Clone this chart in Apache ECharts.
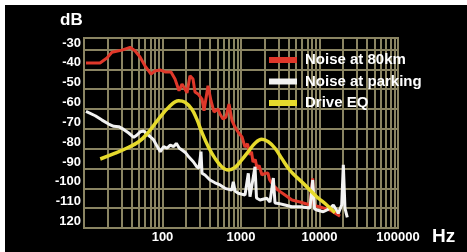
<!DOCTYPE html>
<html>
<head>
<meta charset="utf-8">
<script src="https://cdn.jsdelivr.net/npm/echarts@6/dist/echarts.min.js"></script>
<style>
html,body{margin:0;padding:0;background:#fff;width:467px;height:252px;overflow:hidden;}
#bg{position:absolute;left:5px;top:5px;width:462px;height:247px;background:#000;}
#chart{position:absolute;left:0;top:0;width:467px;height:252px;}
</style>
</head>
<body>
<div id="bg"></div>
<div id="chart"></div>
<script>
// Frequency axis (Hz) tick labels and minor grid positions
const xTickLabels = ['100', '1000', '10000', '100000'];
const minorHz = [20,30,40,50,60,70,80,90,
                 200,300,400,500,600,700,800,900,
                 2000,3000,4000,5000,6000,7000,8000,9000,
                 20000,30000,40000,50000,60000,70000,80000,90000];
const yTickLabels = ['-30','-40','-50','-60','-70','-80','-90','-100','-110','120'];

const seriesNames = ['Noise at 80km', 'Noise at parking', 'Drive EQ'];

// Noise at 80km (red)
const redHz = [10.6,16.0,19.6,22.7,30.5,38.5,44.6,51.7,59.8,71.4,
               80.3,92.9,107.6,128.3,144.3,162.3,177.2,193.5,205.2,224,
               244.6,259.4,283.3,318.6,337.9,379.8,414.7,453.2,509.3,540.1,
               589.9,644.1,703.4,768.1,838.6,915.8,1030,1125,1210,1302,
               1360,1422,1520,1599,1700,1851,2000,2207,2300,2556,
               2960,3635,4463,5644,7568,8190,8500,10150,13610,18250];
const redDb = [-36.8,-36.8,-34.3,-31.4,-30.3,-28.9,-30.6,-33.8,-38.2,-42.4,
               -40.8,-40.3,-41.3,-41.3,-44.9,-50.8,-47.4,-49.9,-51.9,-43.2,
               -44.9,-51.4,-52.4,-55.0,-60.9,-48.3,-55.8,-61.5,-60.0,-62.5,
               -65.0,-64.0,-57.5,-65.9,-69.1,-71.6,-74.1,-79.2,-77.5,-83.2,
               -81.5,-86.7,-85.5,-89.8,-88.5,-93.3,-92.5,-92.3,-95.5,-98.3,
               -100.9,-103.4,-105.9,-106.9,-108.4,-95.0,-108.6,-109.4,-110.9,-114.0];

// Noise at parking (white)
const whiteHz = [10.6,13.9,16.96,20.6,23.9,27.7,32.0,37.1,43.0,47.3,
                 52.1,57.6,63.5,69.9,77.2,85.1,93.8,103.6,114.1,125.7,
                 138.9,149.9,163.7,177.2,195.2,215.7,224,246.9,272.8,291.7,
                 309.4,318.6,347.9,402.8,466.7,540.1,625.5,761.3,797.9,838.6,
                 923.8,1125,1239,1302,1508,1576,1746,2126,2341,2580,
                 2711,2987,3635,4424,5644,7568,8190,8637,9211,11180,
                 13610,14990,17360,19180,20110,21120,22600];
const whiteDb = [-61.2,-63.4,-65.6,-67.6,-68.7,-68.9,-70.3,-72.1,-74.3,-73.1,
                 -71.5,-71.1,-72.6,-74.0,-75.6,-78.7,-81.5,-79.0,-79.8,-78.2,
                 -79.0,-77.3,-79.8,-80.7,-81.9,-84.1,-84.9,-86.6,-89.1,-89.8,
                 -81.5,-92.4,-93.3,-95.8,-97.2,-98.3,-100.0,-100.9,-96.7,-101.4,
                 -102.5,-103.4,-92.4,-104.2,-89.1,-104.9,-105.9,-105.0,-106.9,-94.8,
                 -107.4,-107.6,-108.4,-109.3,-109.3,-109.9,-95.8,-110.4,-110.9,-111.8,
                 -110.1,-108.4,-112.6,-108.4,-88.2,-110.1,-114.6];

// Drive EQ (yellow)
const eqHz = [16.1,25.0,37.1,49.7,63.5,89.4,120.0,160.9,193.5,
              235.5,272.8,315.8,383.1,466.7,567.6,689.0,838.6,1021,1239,
              1508,1835,2227,2711,3300,4004,4638,6220,9211,12350,15760];
const eqDb = [-85.2,-82.3,-79.3,-76.5,-72.6,-65.0,-59.1,-55.8,-56.6,
              -60.0,-65.0,-71.6,-79.0,-84.9,-89.1,-90.8,-89.4,-85.7,-81.5,
              -77.3,-75.3,-76.5,-79.8,-84.9,-89.9,-92.8,-97.5,-104.2,-108.4,-112.3];

const pairs = (xs, ys) => xs.map((x, i) => [x, ys[i]]);

const gridColor = '#8a8462';
const FONT = 'Liberation Sans';

const chart = echarts.init(document.getElementById('chart'), null, {renderer: 'canvas'});
chart.setOption({
  backgroundColor: 'transparent',
  animation: false,
  grid: {left: 84, right: 69, top: 38, bottom: 24, show: true, borderColor: gridColor, borderWidth: 2, backgroundColor: 'transparent'},
  xAxis: {
    type: 'log', logBase: 10, min: 10, max: 100000,
    axisLine: {show: false}, axisTick: {show: false},
    splitLine: {show: true, lineStyle: {color: gridColor, width: 2}},
    axisLabel: {
      color: '#fff', fontSize: 13, fontWeight: 'bold', fontFamily: FONT, margin: 3,
      formatter: function (v) {
        const s = String(Math.round(v));
        return xTickLabels.indexOf(s) >= 0 ? s : '';
      }
    }
  },
  yAxis: {
    type: 'value', min: -120, max: -24.2, interval: 10,
    axisLine: {show: false}, axisTick: {show: false},
    splitLine: {show: true, lineStyle: {color: gridColor, width: 2}},
    axisLabel: {
      color: '#fff', fontSize: 13, fontWeight: 'bold', fontFamily: FONT, margin: 3,
      verticalAlign: 'bottom', showMaxLabel: false, showMinLabel: true,
      formatter: function (v) {
        const idx = Math.round((-30 - v) / 10);
        if (Math.abs(v - Math.round(v)) > 0.01) return '';
        return yTickLabels[idx] !== undefined ? yTickLabels[idx] : '';
      }
    }
  },
  legend: {
    data: seriesNames, orient: 'vertical', left: 269, top: 52, padding: 0, z: 20,
    itemWidth: 28, itemHeight: 6, itemGap: 5.5, icon: 'rect',
    textStyle: {color: '#fff', fontSize: 15, fontWeight: 'bold', fontFamily: FONT, lineHeight: 16, padding: [0, 0, 0, 3]}
  },
  graphic: [
    {type: 'text', left: 60, top: 12, style: {text: 'dB', fill: '#fff', font: 'bold 17px "Liberation Sans"'}},
    {type: 'text', left: 432, top: 227, style: {text: 'Hz', fill: '#fff', font: 'bold 19px "Liberation Sans"'}}
  ],
  series: [
    {
      name: 'minor', type: 'line', data: [], z: 1, silent: true,
      markLine: {
        silent: true, z: 1, symbol: ['none', 'none'], label: {show: false}, animation: false,
        lineStyle: {color: gridColor, width: 2, type: 'solid'},
        emphasis: {disabled: true},
        data: minorHz.map(v => ({xAxis: v}))
      }
    },
    {name: seriesNames[0], type: 'line', data: pairs(redHz, redDb), showSymbol: false, symbol: 'none', z: 3,
     color: '#e0382a', lineStyle: {color: '#e0382a', width: 3}},
    {name: seriesNames[1], type: 'line', data: pairs(whiteHz, whiteDb), showSymbol: false, symbol: 'none', z: 4,
     color: '#f2f2f2', lineStyle: {color: '#f2f2f2', width: 3}},
    {name: seriesNames[2], type: 'line', data: pairs(eqHz, eqDb), showSymbol: false, symbol: 'none', z: 5, smooth: 0.4,
     color: '#e6da2c', lineStyle: {color: '#e6da2c', width: 3.5}}
  ]
});
</script>
</body>
</html>
